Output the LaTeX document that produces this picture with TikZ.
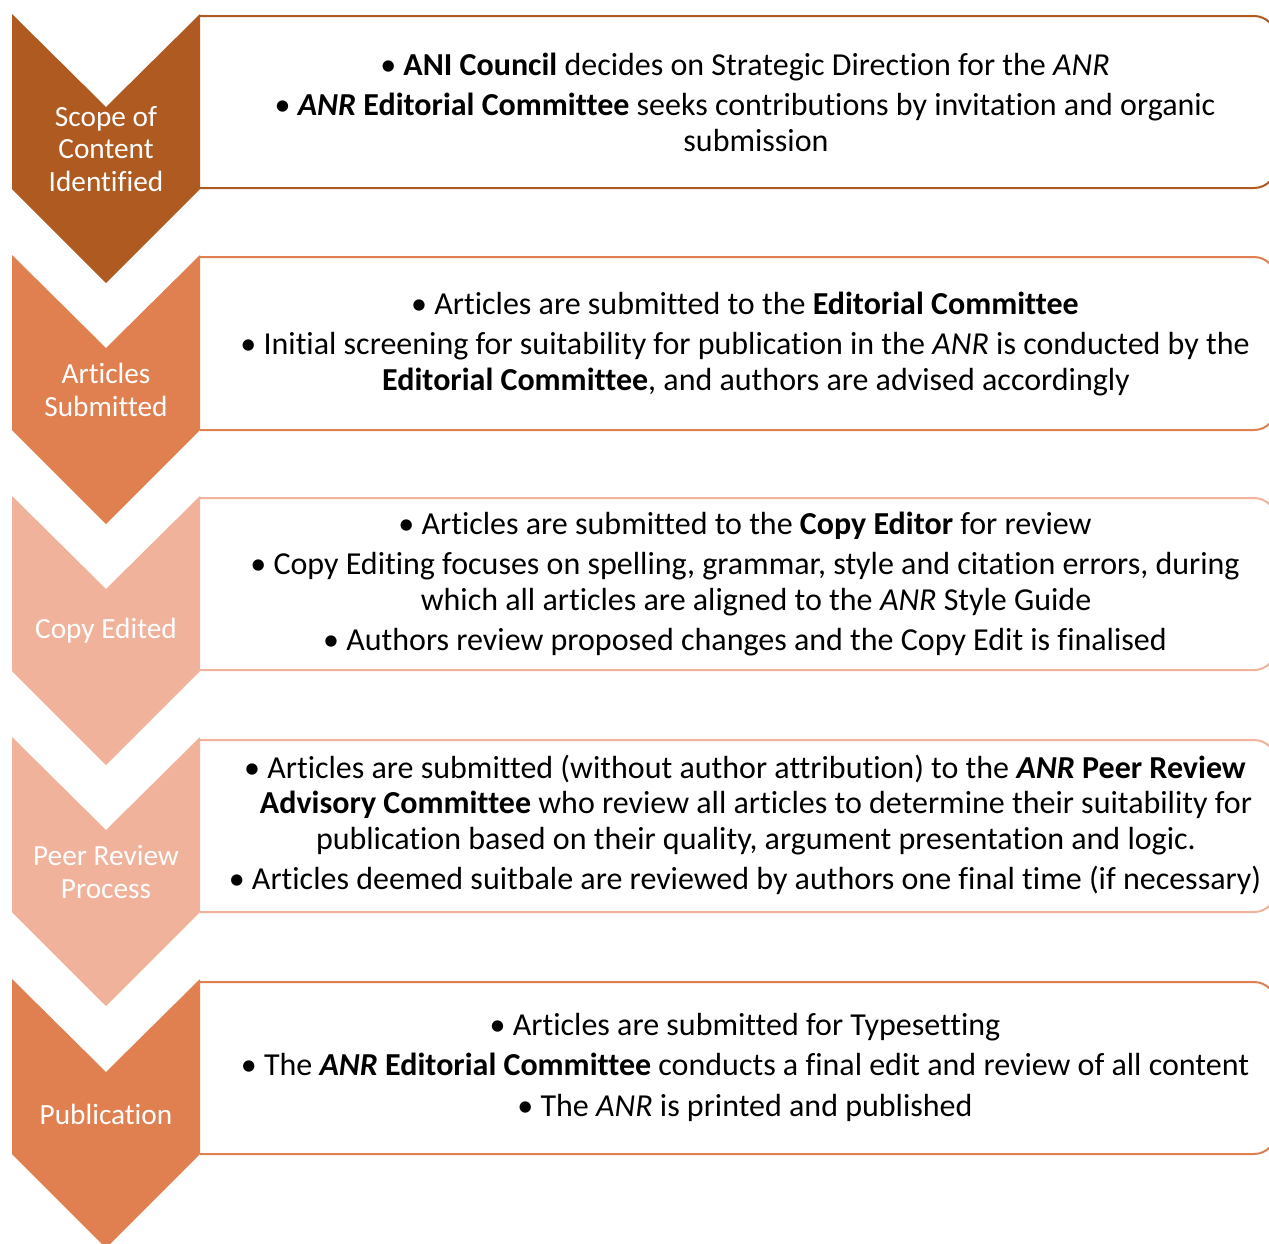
\documentclass[tikz,border=0pt]{standalone}
\usepackage{fontspec}
\setmainfont[Ligatures=NoCommon]{Carlito}
\definecolor{stepdark}{HTML}{AE5A21}
\definecolor{stepmid}{HTML}{E07F4F}
\definecolor{steplight}{HTML}{F0B29B}
\newcommand{\cont}{\hspace*{22pt}}
\tikzset{
  chevlabel/.style={text=white, align=center, font=\fontsize{29.3}{32.5}\selectfont},
  boxtext/.style={text=black, align=center, font=\fontsize{32}{35.5}\selectfont},
  boxline/.style={line width=2pt},
}
% chevron with its top edge at #2 filled with colour #1
\newcommand{\chevron}[2]{%
  \fill[#1] (12,#2) -- (106,#2+93) -- (200,#2) -- (200,#2+175) -- (106,#2+269) -- (12,#2+175) -- cycle;}
% box to the right of a chevron, rounded on its right side only
\newcommand{\stepbox}[3]{%
  \draw[boxline, #1, fill=white] (200,#2) -- (1252,#2) [rounded corners=22pt] -- (1276,#2) -- (1276,#3) [sharp corners] -- (1252,#3) -- (200,#3);}
\begin{document}
\begin{tikzpicture}[x=1pt,y=-1pt]
\useasboundingbox (0,0) rectangle (1269,1243);
\begin{scope}
\clip (0,0) rectangle (1269,1243);
% boxes
\stepbox{stepdark}{16}{188}
\stepbox{stepmid}{257}{430}
\stepbox{steplight}{498}{670}
\stepbox{steplight}{740}{912}
\stepbox{stepmid}{982}{1154}
% chevrons
\chevron{stepdark}{14}
\chevron{stepmid}{255}
\chevron{steplight}{496}
\chevron{steplight}{737}
\chevron{stepmid}{979}
\end{scope}
% chevron labels
\node[chevlabel] (c1) at (106,149) {Scope of\\Content\\Identified};
\node[chevlabel] (c2) at (106,390) {Articles\\Submitted};
\node[chevlabel] (c3) at (106,631) {Copy Edited};
\node[chevlabel] (c4) at (106,872) {Peer Review\\Process};
\node[chevlabel] (c5) at (106,1114) {Publication};
% box contents
\node[boxtext] (t1) at (745,102) {%
  • \textbf{ANI Council} decides on Strategic Direction for the \textit{ANR}\\[5pt]
  • \textbf{\textit{ANR} Editorial Committee} seeks contributions by invitation and organic\\
  \cont submission};
\node[boxtext] (t2) at (745,344) {%
  • Articles are submitted to the \textbf{Editorial Committee}\\[5pt]
  • Initial screening for suitability for publication in the \textit{ANR} is conducted by the\\
  \cont\textbf{Editorial Committee}, and authors are advised accordingly};
\node[boxtext] (t3) at (745,584) {%
  • Articles are submitted to the \textbf{Copy Editor} for review\\[5pt]
  • Copy Editing focuses on spelling, grammar, style and citation errors, during\\
  \cont which all articles are aligned to the \textit{ANR} Style Guide\\[5pt]
  • Authors review proposed changes and the Copy Edit is finalised};
\node[boxtext] (t4) at (745,825) {%
  • Articles are submitted (without author attribution) to the \textbf{\textit{ANR} Peer Review}\\
  \cont\textbf{Advisory Committee} who review all articles to determine their suitability for\\
  \cont publication based on their quality, argument presentation and logic.\\[5pt]
  • Articles deemed suitbale are reviewed by authors one final time (if necessary)};
\node[boxtext] (t5) at (745,1067) {%
  • Articles are submitted for Typesetting\\[5pt]
  • The \textbf{\textit{ANR} Editorial Committee} conducts a final edit and review of all content\\[5pt]
  • The \textit{ANR} is printed and published};
\end{tikzpicture}
\end{document}
